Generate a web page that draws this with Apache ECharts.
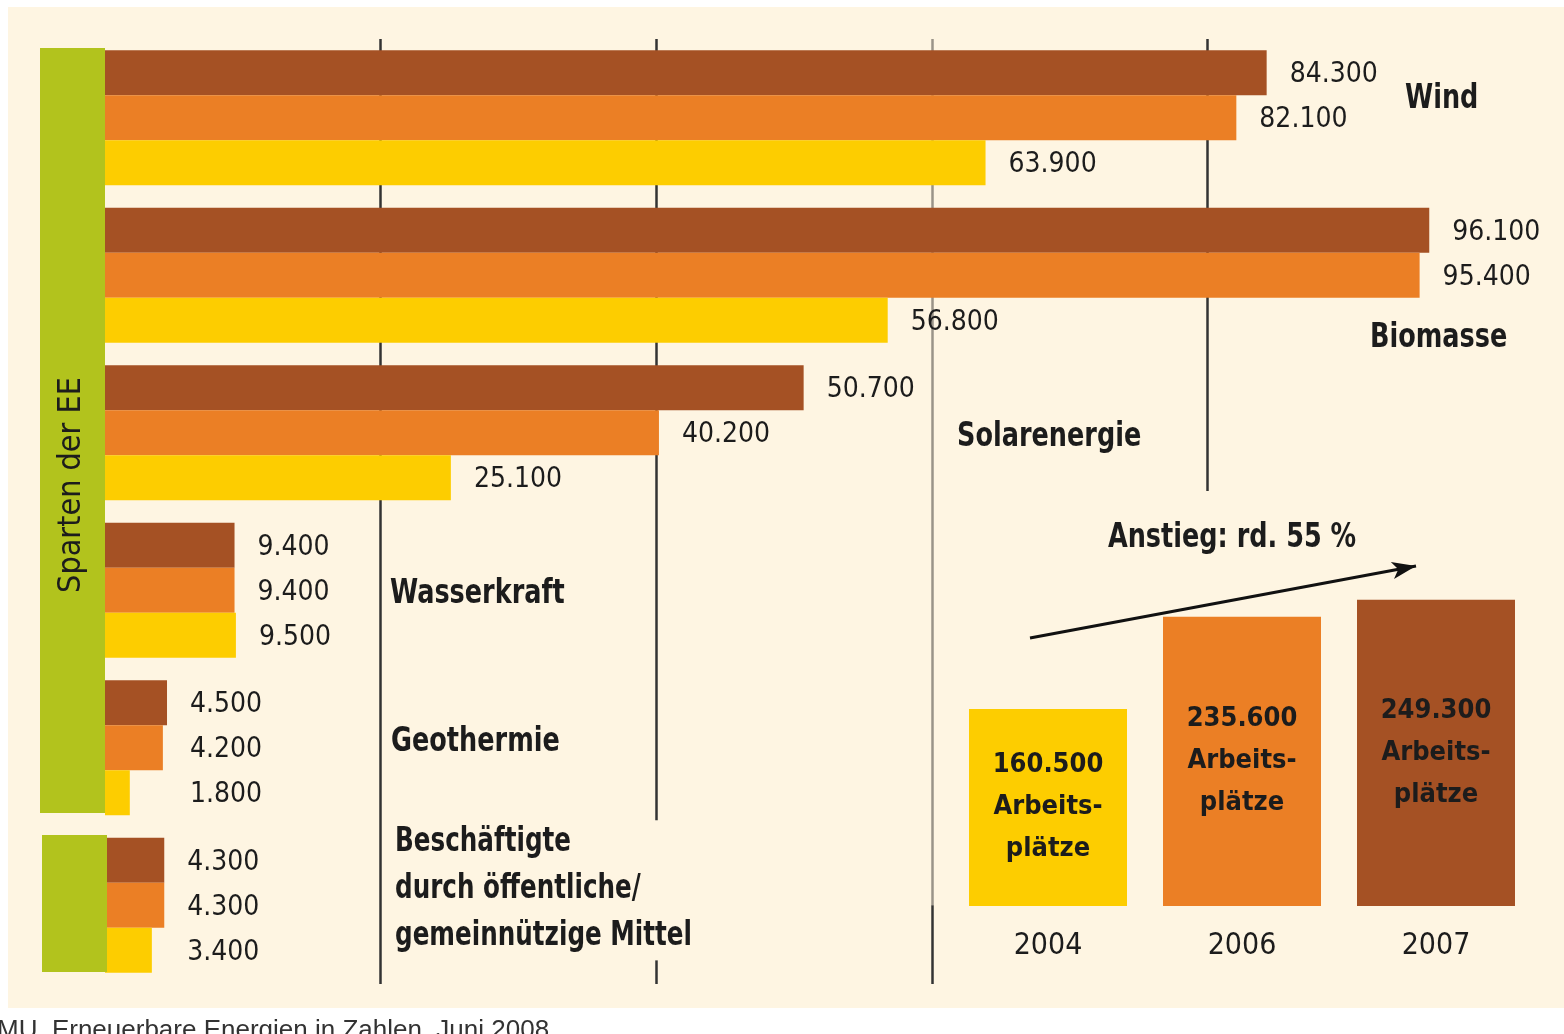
<!DOCTYPE html>
<html>
<head>
<meta charset="utf-8">
<script src="https://cdn.jsdelivr.net/npm/echarts@6/dist/echarts.min.js"></script>
<style>
  html, body { margin: 0; padding: 0; background: #fff; }
  #chart { width: 1564px; height: 1034px; }
</style>
</head>
<body>
<div id="chart"></div>
<script>
// Beschäftigte nach Sparten der erneuerbaren Energien
const sparten = [
  "Wind",
  "Biomasse",
  "Solarenergie",
  "Wasserkraft",
  "Geothermie",
  "Beschäftigte\ndurch öffentliche/\ngemeinnützige Mittel",
];
const values2007 = [84300, 96100, 50700, 9400, 4500, 4300];
const values2006 = [82100, 95400, 40200, 9400, 4200, 4300];
const values2004 = [63900, 56800, 25100, 9500, 1800, 3400];
const gridTicks = [20000, 40000, 60000, 80000];

// Summe Arbeitsplätze
const totalYears = ["2004", "2006", "2007"];
const totalValues = [160500, 235600, 249300];

const BROWN = "#a55124";
const ORANGE = "#eb7f25";
const YELLOW = "#fdcd00";
const GREEN = "#b2c31d";
const CREAM = "#fef5e2";
const INK = "#1c1c1c";
const NARROW = '"Liberation Sans Narrow", "Arial Narrow", "DejaVu Sans Condensed", sans-serif';
const SQUEEZE = 0.86;

const yearColors = { "2004": YELLOW, "2006": ORANGE, "2007": BROWN };

function fmt(v) {
  return String(v).replace(/\B(?=(\d{3})+(?!\d))/g, ".");
}

// gridline pieces, measured in category bands from the top (0..6)
const gridPieces = [
  { x: gridTicks[0], from: 0, to: 6, color: "#333" },
  { x: gridTicks[1], from: 0, to: 4.96, color: "#333" },
  { x: gridTicks[1], from: 5.85, to: 6, color: "#333" },
  { x: gridTicks[2], from: 0, to: 5.5, color: "#9a9388" },
  { x: gridTicks[2], from: 5.5, to: 6, color: "#333" },
  { x: gridTicks[3], from: 0, to: 2.87, color: "#333" },
];
// labels of these rows line up behind the longest bar of the row
const alignedRows = [4, 5];

const chart = echarts.init(document.getElementById("chart"), null, { renderer: "canvas" });

function barSeries(name, values, color, offsets) {
  return {
    name: name,
    type: "bar",
    xAxisIndex: 0,
    yAxisIndex: 0,
    barWidth: 45,
    barGap: "0%",
    z: 3,
    itemStyle: { color: color },
    data: values.map((v, i) => ({
      value: v,
      label: { offset: [offsets ? offsets[i] : 0, 2] },
    })),
    label: {
      show: true,
      position: "right",
      distance: 23,
      color: INK,
      fontFamily: NARROW,
      fontSize: 28,
      formatter: (p) => fmt(p.value),
    },
  };
}

function textEl(text, x, y, opts) {
  opts = opts || {};
  return {
    type: "text",
    z: 11,
    silent: true,
    x: x,
    y: y,
    scaleX: opts.scaleX || SQUEEZE,
    rotation: opts.rotation || 0,
    style: {
      text: text,
      fill: opts.fill || INK,
      font: opts.font || "bold 33px " + NARROW,
      lineHeight: opts.lineHeight || 40,
      textAlign: opts.align || "left",
      textVerticalAlign: opts.valign || "middle",
    },
  };
}

function buildOption(offsets) {
  return {
    backgroundColor: "#ffffff",
    animation: false,
    grid: [
      { left: 105, top: 39, width: 1378, height: 945 },
      { left: 951, top: 599, width: 582, height: 307 },
    ],
    xAxis: [
      {
        type: "value",
        gridIndex: 0,
        min: 0,
        max: 100000,
        interval: 20000,
        show: false,
      },
      {
        type: "category",
        gridIndex: 1,
        data: totalYears,
        axisLine: { show: false },
        axisTick: { show: false },
        axisLabel: { color: INK, fontFamily: NARROW, fontSize: 30, margin: 25 },
      },
    ],
    yAxis: [
      { type: "category", gridIndex: 0, data: sparten, inverse: true, show: false },
      { type: "value", gridIndex: 0, min: 0, max: 6, inverse: true, show: false },
      { type: "value", gridIndex: 1, min: 0, max: 250000, show: false },
    ],
    series: [
      {
        type: "lines",
        coordinateSystem: "cartesian2d",
        xAxisIndex: 0,
        yAxisIndex: 1,
        z: 1,
        silent: true,
        data: gridPieces.map((g) => ({
          coords: [[g.x, g.from], [g.x, g.to]],
          lineStyle: { color: g.color, width: 2.5, opacity: 1 },
        })),
      },
      barSeries("2007", values2007, BROWN, offsets && offsets[0]),
      barSeries("2006", values2006, ORANGE, offsets && offsets[1]),
      barSeries("2004", values2004, YELLOW, offsets && offsets[2]),
      {
        name: "Arbeitsplätze",
        type: "bar",
        xAxisIndex: 1,
        yAxisIndex: 2,
        barWidth: 158,
        z: 3,
        data: totalValues.map((v, i) => ({
          value: v,
          itemStyle: { color: yearColors[totalYears[i]] },
        })),
        label: {
          show: true,
          position: "inside",
          color: INK,
          fontFamily: NARROW,
          fontWeight: "bold",
          fontSize: 27,
          lineHeight: 42,
          formatter: (p) => fmt(p.value) + "\nArbeits-\nplätze",
        },
        markLine: {
          silent: true,
          symbol: ["none", "arrow"],
          symbolSize: [13, 24],
          label: { show: false },
          lineStyle: { color: "#111", width: 3, type: "solid" },
          data: [[{ x: 1030, y: 638 }, { x: 1416, y: 566 }]],
        },
      },
    ],
    graphic: [
      {
        type: "rect",
        z: -10,
        silent: true,
        shape: { x: 8, y: 7, width: 1556, height: 1001 },
        style: { fill: CREAM },
      },
      {
        type: "rect",
        z: 10,
        silent: true,
        shape: { x: 40, y: 48, width: 65, height: 765 },
        style: { fill: GREEN },
      },
      {
        type: "rect",
        z: 10,
        silent: true,
        shape: { x: 42, y: 835, width: 65, height: 137 },
        style: { fill: GREEN },
      },
      textEl("Sparten der EE", 72, 485, {
        rotation: Math.PI / 2,
        scaleX: 1,
        font: "500 32px " + NARROW,
        align: "center",
      }),
      textEl(sparten[0], 1405, 99),
      textEl(sparten[1], 1370, 338),
      textEl(sparten[2], 957, 437),
      textEl(sparten[3], 390, 594),
      textEl(sparten[4], 391, 742),
      textEl(sparten[5], 395, 889, { lineHeight: 47, scaleX: 0.83 }),
      textEl("Anstieg: rd. 55 %", 1232, 538, { align: "center" }),
      textEl("MU, Erneuerbare Energien in Zahlen, Juni 2008", -3, 1011, {
        scaleX: 1,
        fill: "#333",
        font: '26px "Liberation Sans", Arial, sans-serif',
        valign: "top",
      }),
    ],
  };
}

chart.setOption(buildOption(null));

// second pass: shift labels of the aligned rows through the x scale
const px = (v) => chart.convertToPixel({ xAxisIndex: 0 }, v);
const allValues = [values2007, values2006, values2004];
const offsets = allValues.map((vals) =>
  vals.map((v, i) => {
    if (alignedRows.indexOf(i) < 0) return 0;
    const rowMax = Math.max(values2007[i], values2006[i], values2004[i]);
    return px(rowMax) - px(v);
  })
);
chart.setOption(buildOption(offsets));
</script>
</body>
</html>
